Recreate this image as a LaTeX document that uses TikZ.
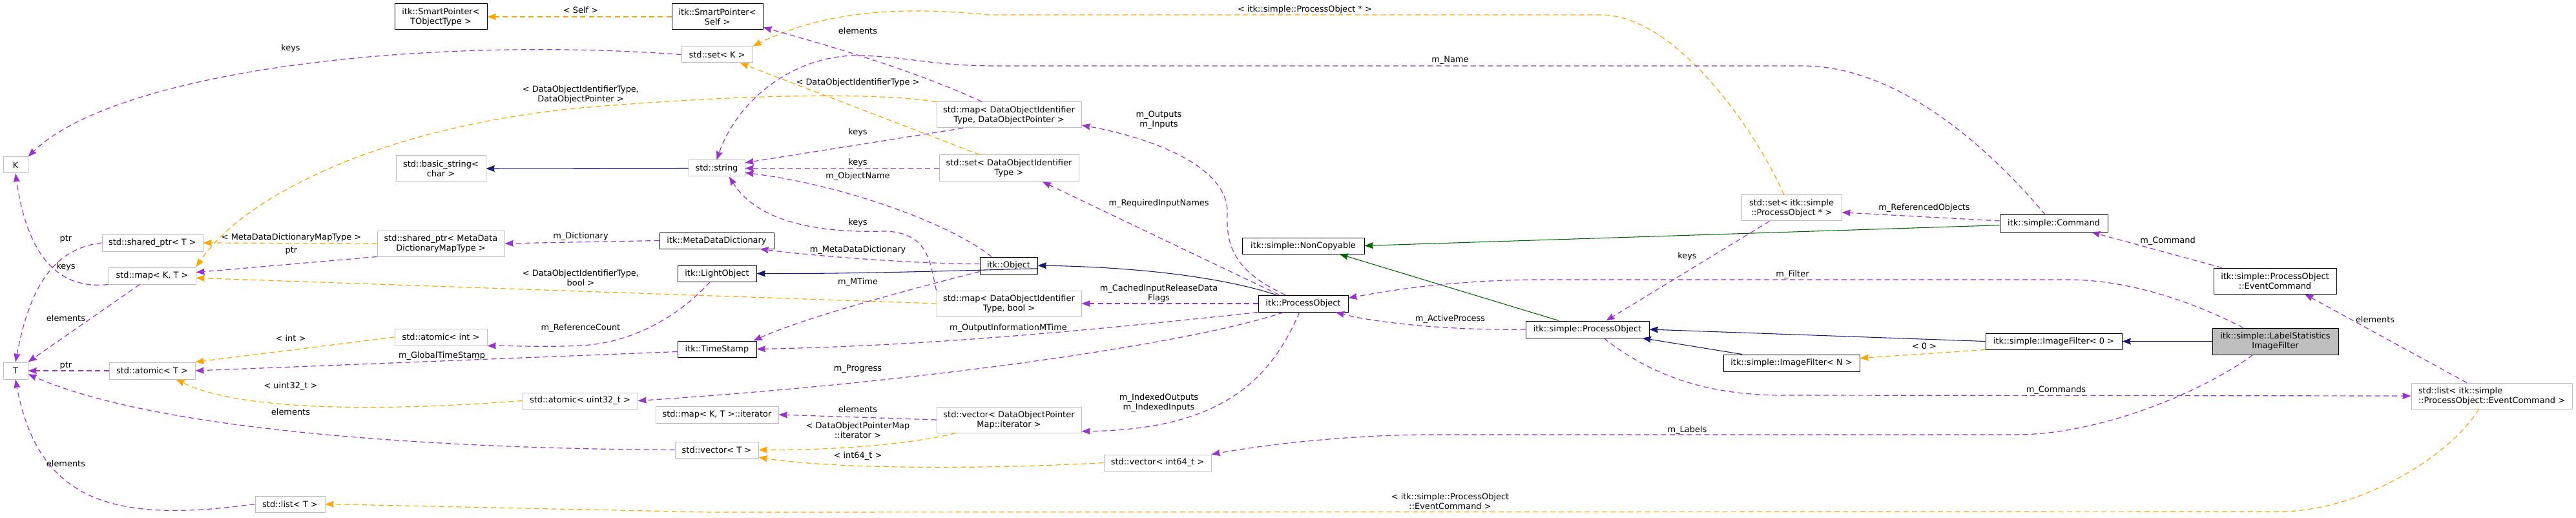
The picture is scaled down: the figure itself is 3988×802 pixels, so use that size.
\documentclass[tikz,border=0pt]{standalone}
\usepackage{fontspec}
\setmainfont{DejaVu Sans}
\usetikzlibrary{arrows.meta}

\definecolor{usecol}{HTML}{9A32CD}
\definecolor{tplcol}{HTML}{FFA500}
\definecolor{pubcol}{HTML}{191970}
\definecolor{privcol}{HTML}{006400}
\definecolor{boxgrey}{HTML}{BFBFBF}

\begin{document}
\begin{tikzpicture}[x=0.75pt, y=-0.75pt, >={Stealth[length=10pt,width=7.5pt,inset=1pt]},
    every node/.style={font=\fontsize{9.7}{11.2}\selectfont, align=center, inner sep=0pt},
    sz/.style 2 args={minimum width=#1*0.75pt, minimum height=#2*0.75pt},
    cls/.style={draw=boxgrey, fill=white, line width=0.75pt},
    clsb/.style={draw=black, fill=white, line width=0.75pt},
    focus/.style={draw=black, fill=boxgrey, line width=0.75pt},
    lbl/.style={},
    use/.style={->, usecol, line width=0.9pt, dash pattern=on 6pt off 4pt},
    tpl/.style={->, tplcol, line width=0.9pt, dash pattern=on 6pt off 4pt},
    pub/.style={->, pubcol, line width=0.8pt},
    priv/.style={->, privcol, line width=0.8pt}]

    \useasboundingbox (0,0) rectangle (3988,802);

    % Các lớp std
    \node[cls, sz={38}{25}] (K) at (24,255.5) {K};
    \node[cls, sz={38}{26}] (T) at (24,574) {T};
    \node[cls, sz={156}{26}] (shpT) at (236,376) {std::shared\_ptr< T >};
    \node[cls, sz={135}{26}] (mapKT) at (235.5,427) {std::map< K, T >};
    \node[cls, sz={133}{26}] (atT) at (235.5,574) {std::atomic< T >};
    \node[cls, sz={108}{25}] (listT) at (449,780.5) {std::list< T >};
    \node[cls, sz={139}{40}] (bstr) at (682.5,261) {std::basic\_string<\\char >};
    \node[cls, sz={197}{40}] (shpMD) at (682.5,377) {std::shared\_ptr< MetaData\\DictionaryMapType >};
    \node[cls, sz={143}{26}] (atInt) at (682.5,522) {std::atomic< int >};
    \node[cls, sz={178}{25}] (atU) at (898,620.5) {std::atomic< uint32\_t >};
    \node[cls, sz={110}{25}] (setK) at (1110,84.5) {std::set< K >};
    \node[cls, sz={87}{25}] (str) at (1109.5,260.5) {std::string};
    \node[cls, sz={190}{26}] (mapIt) at (1110,642) {std::map< K, T >::iterator};
    \node[cls, sz={129}{25}] (vecT) at (1109.5,696.5) {std::vector< T >};
    \node[cls, sz={224}{40}] (mapDOI) at (1562,178) {std::map< DataObjectIdentifier\\Type, DataObjectPointer >};
    \node[cls, sz={216}{41}] (setDOI) at (1562,260.5) {std::set< DataObjectIdentifier\\Type >};
    \node[cls, sz={224}{40}] (mapBool) at (1562,470) {std::map< DataObjectIdentifier\\Type, bool >};
    \node[cls, sz={224}{40}] (vecIt) at (1562,650) {std::vector< DataObjectPointer\\Map::iterator >};
    \node[cls, sz={166}{25}] (vecI64) at (1792,716.5) {std::vector< int64\_t >};
    \node[cls, sz={155}{40}] (setPO) at (2773.5,322) {std::set< itk::simple\\::ProcessObject * >};
    \node[cls, sz={249}{40}, align=left] (listEC) at (3857.5,613) {std::list< itk::simple\\::ProcessObject::EventCommand >};

    % Các lớp itk
    \node[clsb, sz={143}{40}] (spT) at (682.5,26) {itk::SmartPointer<\\TObjectType >};
    \node[clsb, sz={141}{40}] (spS) at (1110.5,26) {itk::SmartPointer<\\Self >};
    \node[clsb, sz={177}{25}] (MDD) at (1109.5,372.5) {itk::MetaDataDictionary};
    \node[clsb, sz={122}{25}] (LObj) at (1110,423.5) {itk::LightObject};
    \node[clsb, sz={122}{25}] (TS) at (1110,540.5) {itk::TimeStamp};
    \node[clsb, sz={89}{26}] (Obj) at (1561.5,411) {itk::Object};
    \node[clsb, sz={139}{26}] (itkPO) at (2017.5,470) {itk::ProcessObject};
    \node[clsb, sz={189}{25}] (NC) at (2017.5,380.5) {itk::simple::NonCopyable};
    \node[clsb, sz={191}{26}] (sPO) at (2457.5,510) {itk::simple::ProcessObject};
    \node[clsb, sz={211}{26}] (IFN) at (2773.5,562) {itk::simple::ImageFilter< N >};
    \node[clsb, sz={167}{26}] (Cmd) at (3179.5,346) {itk::simple::Command};
    \node[clsb, sz={211}{25}] (IF0) at (3179.5,528.5) {itk::simple::ImageFilter< 0 >};
    \node[clsb, sz={190}{40}] (EvC) at (3522,435) {itk::simple::ProcessObject\\::EventCommand};
    \node[focus, sz={195}{41}] (LSF) at (3522.5,528.5) {itk::simple::LabelStatistics\\ImageFilter};

    % Kế thừa
    \draw[pub] (str.west) -- (bstr.east);
    \draw[pub] (Obj.-6) .. controls (1420,421) and (1300,424) .. (LObj.east);
    \draw[pub] (itkPO.162.6) .. controls (1900,432) and (1780,414) .. (Obj.east);
    \draw[pub] (IF0.west) -- (sPO.east);
    \draw[pub] (IFN.170.9) -- (sPO.-9.1);
    \draw[pub] (LSF.west) -- (IF0.east);
    \draw[priv] ([yshift=-2pt]Cmd.west) -- (NC.east);
    \draw[priv] (sPO.163) -- (NC.-13.4);

    % Tham số mẫu
    \draw[tpl] (spS.west) -- (spT.east);
    \node[lbl] (lSelf) at (899,16) {< Self >};
    \draw[tpl] (setPO.120) .. controls (2725,215) and (2600,25) .. (2480,23) -- (1530,23)
        .. controls (1400,10) and (1280,15) .. (setK.north east);
    \node[lbl] (lPOptr) at (2020,15) {< itk::simple::ProcessObject * >};
    \draw[tpl] (setDOI.155.5) -- (setK.-20.7);
    \node[lbl] (lDOI) at (1328,128) {< DataObjectIdentifierType >};
    \draw[tpl] (mapDOI.north west) .. controls (1330,140) and (1100,150) .. (900,167)
        .. controls (600,195) and (380,300) .. (mapKT.north east);
    \node[lbl] (lDOIptr) at (899,146) {< DataObjectIdentifierType,\\DataObjectPointer >};
    \draw[tpl] (shpMD.west) -- (shpT.east);
    \node[lbl] (lMDMap) at (451,368) {< MetaDataDictionaryMapType >};
    \draw[tpl] (mapBool.west) -- ([yshift=-2.5pt]mapKT.east);
    \node[lbl] (lDOIbool) at (899,430) {< DataObjectIdentifierType,\\bool >};
    \draw[tpl] (atInt.west) -- (atT.north east);
    \node[lbl] (lInt) at (450,524) {< int >};
    \draw[tpl] (atU.west) .. controls (620,635) and (380,640) .. (atT.-20);
    \node[lbl] (lU32) at (450,598) {< uint32\_t >};
    \draw[tpl] (listEC.-134) .. controls (3790,710) and (3650,792) .. (3530,792) -- (1100,793) -- (listT.east);
    \node[lbl] (lEvC) at (2245,776.5) {< itk::simple::ProcessObject\\::EventCommand >};
    \draw[tpl] (vecIt.-166.1) .. controls (1400,690) and (1280,697) .. (vecT.east);
    \node[lbl] (lDOPMap) at (1328,666) {< DataObjectPointerMap\\::iterator >};
    \draw[tpl] (vecI64.west) .. controls (1500,728) and (1280,725) .. (vecT.-10);
    \node[lbl] (lI64) at (1328,706) {< int64\_t >};
    \draw[tpl] (IF0.south west) -- (IFN.4);
    \node[lbl] (lZero) at (2979,536) {< 0 >};

    % Quan hệ sử dụng
    \draw[use] (mapDOI.154.5) .. controls (1430,115) and (1300,75) .. (spS.-13.6);
    \node[lbl] (lElemA) at (1328,48) {elements};
    \draw[use] (mapDOI.-164) -- (str.11);
    \node[lbl] (lKeysA) at (1328,205) {keys};
    \draw[use] (setDOI.west) -- (str.east);
    \node[lbl] (lKeysB) at (1328,252) {keys};
    \draw[use] (Obj.153) .. controls (1470,345) and (1300,285) .. (str.-9.8);
    \node[lbl] (lObjName) at (1328,273) {m\_ObjectName};
    \draw[use] (mapBool.north west) .. controls (1440,410) and (1440,360) .. (1370,358)
        .. controls (1300,360) and (1180,355) .. (str.-34);
    \node[lbl] (lKeysC) at (1328,345) {keys};
    \draw[use] (Cmd.134) .. controls (3080,230) and (2940,102) .. (2790,102) -- (1540,102)
        .. controls (1440,102) and (1400,86) .. (1320,86)
        .. controls (1220,90) and (1140,160) .. (str.north);
    \node[lbl] (lName) at (2245,93) {m\_Name};
    \draw[use] (setK.west) .. controls (650,55) and (180,110) .. (K.north east);
    \node[lbl] (lKeysD) at (450,75) {keys};
    \draw[use] (shpT.west) .. controls (80,385) and (45,450) .. (T.north);
    \node[lbl] (lPtrA) at (102,370) {ptr};
    \draw[use] (mapKT.south west) .. controls (80,450) and (40,380) .. (K.south);
    \node[lbl] (lKeysE) at (102,413) {keys};
    \draw[use] (mapKT.-145) -- (T.north east);
    \node[lbl] (lElemB) at (102,493) {elements};
    \draw[use] (shpMD.south west) -- ([yshift=4pt]mapKT.east);
    \node[lbl] (lPtrB) at (451,388) {ptr};
    \draw[use] (MDD.west) -- (shpMD.east);
    \node[lbl] (lDict) at (899,366) {m\_Dictionary};
    \draw[use] (LObj.-130) .. controls (1060,480) and (990,530) .. (900,535)
        .. controls (840,538) and (790,535) .. (atInt.south east);
    \node[lbl] (lRefCount) at (899,508) {m\_ReferenceCount};
    \draw[use] ([yshift=-3pt]TS.west) -- (atT.east);
    \node[lbl] (lGlobal) at (684,551) {m\_GlobalTimeStamp};
    \draw[use] (atT.west) -- (T.east);
    \node[lbl] (lPtrC) at (102,566) {ptr};
    \draw[use] (vecT.west) .. controls (700,695) and (250,670) .. (T.-15);
    \node[lbl] (lElemC) at (450,638) {elements};
    \draw[use] (listT.west) .. controls (180,810) and (60,780) .. (T.south);
    \node[lbl] (lElemD) at (102,718) {elements};
    \draw[use] (Obj.177) .. controls (1400,408) and (1250,395) .. (MDD.-11.9);
    \node[lbl] (lMDD) at (1328,387) {m\_MetaDataDictionary};
    \draw[use] (Obj.-168.6) .. controls (1420,445) and (1250,490) .. (TS.13.3);
    \node[lbl] (lMTime) at (1328,437) {m\_MTime};
    \draw[use] (itkPO.south west) .. controls (1700,510) and (1450,535) .. (TS.east);
    \node[lbl] (lOutInfo) at (1561,508) {m\_OutputInformationMTime};
    \draw[use] (itkPO.-156) .. controls (1850,530) and (1450,590) .. (atU.east);
    \node[lbl] (lProgress) at (1328,571) {m\_Progress};
    \draw[use] (itkPO.west) -- (mapBool.east);
    \node[lbl] (lCached) at (1794,454.5) {m\_CachedInputReleaseData\\Flags};
    \draw[use] (itkPO.-113) .. controls (1970,580) and (1900,665) .. (vecIt.-9);
    \node[lbl] (lIndexed) at (1794,624) {m\_IndexedOutputs\\m\_IndexedInputs};
    \draw[use] (vecIt.west) -- (mapIt.east);
    \node[lbl] (lElemE) at (1328,634) {elements};
    \draw[use] (itkPO.154.7) .. controls (1910,420) and (1898,380) .. (1900,330)
        .. controls (1902,260) and (1790,215) .. (mapDOI.-8.5);
    \node[lbl] (lOutputs) at (1794,186) {m\_Outputs\\m\_Inputs};
    \draw[use] (itkPO.160.9) -- (setDOI.-22.3);
    \node[lbl] (lReqNames) at (1794,315) {m\_RequiredInputNames};
    \draw[use] (setPO.-149) -- (sPO.25);
    \node[lbl] (lKeysF) at (2612,397) {keys};
    \draw[use] ([yshift=3pt]Cmd.west) -- (setPO.-5);
    \node[lbl] (lRefObj) at (2979,322) {m\_ReferencedObjects};
    \draw[use] (sPO.west) .. controls (2250,512) and (2130,500) .. (itkPO.-15.6);
    \node[lbl] (lActive) at (2245,494) {m\_ActiveProcess};
    \draw[use] (LSF.157.5) .. controls (3400,470) and (3300,433) .. (3200,433) -- (2390,433)
        .. controls (2250,433) and (2150,450) .. (itkPO.7);
    \node[lbl] (lFilter) at (2775,425) {m\_Filter};
    \draw[use] (sPO.-28) .. controls (2560,585) and (2650,612) .. (2760,612) -- (listEC.west);
    \node[lbl] (lCommands) at (3183,604) {m\_Commands};
    \draw[use] (LSF.-149.3) .. controls (3420,600) and (3260,673) .. (3120,673) -- (2220,673)
        .. controls (2080,673) and (1950,690) .. (vecI64.north east);
    \node[lbl] (lLabels) at (2612,666) {m\_Labels};
    \draw[use] (listEC.152.5) -- (EvC.-24);
    \node[lbl] (lElemF) at (3677,495) {elements};
    \draw[use] (EvC.166.1) -- (Cmd.-13);
    \node[lbl] (lCommand) at (3356,373) {m\_Command};
\end{tikzpicture}
\end{document}
